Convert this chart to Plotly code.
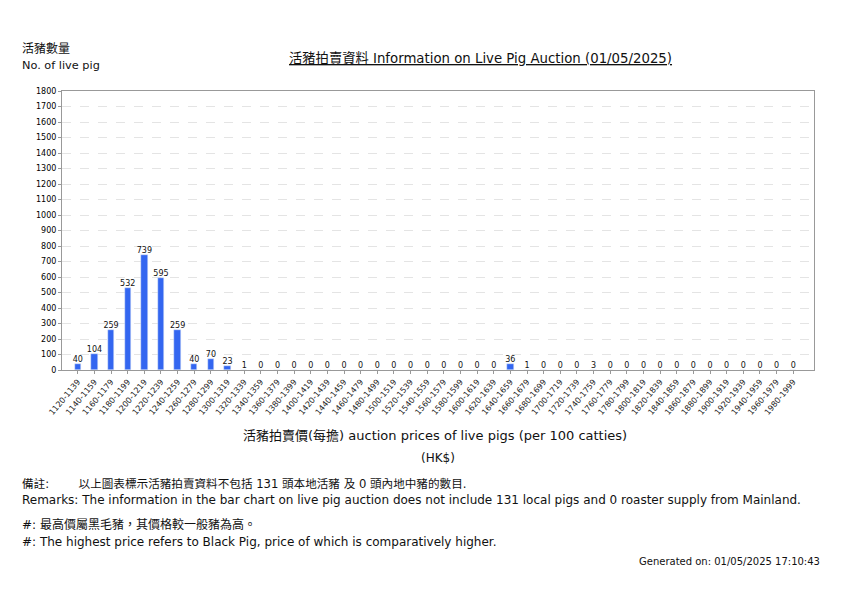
import plotly.graph_objects as go

# live pig auction, 01/05/2025
bin_starts = list(range(1120, 2000, 20))
price_bins = [f"{s}-{s + 19}" for s in bin_starts]
pig_counts = [40, 104, 259, 532, 739, 595, 259, 40, 70, 23, 1,
              0, 0, 0, 0, 0, 0, 0, 0, 0, 0, 0, 0, 0, 0, 0,
              36, 1, 0, 0, 0, 3,
              0, 0, 0, 0, 0, 0, 0, 0, 0, 0, 0, 0]
y_ticks = list(range(0, 1900, 100))

W, H = 842, 595
OFF = 8  # page body margin shifts the figure
L, R, T, B = 62 - OFF, 814 - OFF, 91 - OFF, 370 - OFF  # plot box in pixels
FONT = "DejaVu Sans, Noto Sans CJK TC"


def px(x, y):
    # screen pixel -> paper coords
    x, y = x - OFF, y - OFF
    return (x - L) / (R - L), (B - y) / (B - T)


xs = list(range(len(price_bins)))
fig = go.Figure()
fig.add_trace(go.Bar(x=xs, y=pig_counts, marker_color="#3366f0", width=0.38))
# value labels above bars
fig.add_trace(go.Scatter(
    x=xs, y=pig_counts, mode="text", text=[str(v) for v in pig_counts],
    textposition="top center", textfont=dict(size=8, color="#111"),
    cliponaxis=False, hoverinfo="skip",
))

fig.update_layout(
    width=W, height=H,
    margin=dict(l=L, r=W - R, t=T, b=H - B),
    paper_bgcolor="white", plot_bgcolor="white",
    font=dict(family=FONT, color="#111"),
    showlegend=False, bargap=0,
)
fig.update_xaxes(
    range=[-0.95, len(price_bins) + 0.25],
    tickvals=xs, ticktext=price_bins,
    tickangle=-50, tickfont=dict(size=8, color="#222"), ticks="outside", ticklen=3,
    tickcolor="#999", showgrid=False, showline=True, linecolor="#999",
    mirror=True, zeroline=False,
)
fig.update_yaxes(
    range=[0, 1800], tickvals=y_ticks, tickfont=dict(size=8, color="#000"),
    ticks="outside", ticklen=3, tickcolor="#999",
    showgrid=True, gridcolor="#e4e4e4", griddash="dash",
    showline=True, linecolor="#999", mirror=True, zeroline=False,
)

notes = [
    (20, 49, "活豬數量", 12, "left"),
    (20, 66, "No. of live pig", 11.3, "left"),
    (480, 58, "<u>活豬拍賣資料 Information on Live Pig Auction (01/05/2025)</u>", 13.3, "center"),
    (435, 435, "活豬拍賣價(每擔) auction prices of live pigs (per 100 catties)", 13, "center"),
    (438, 458, "(HK$)", 12, "center"),
    (20, 484, "備註:&nbsp;&nbsp;&nbsp;&nbsp;&nbsp;&nbsp;&nbsp;&nbsp;以上圖表標示活豬拍賣資料不包括 131 頭本地活豬 及 0 頭內地中豬的數目.", 11.6, "left"),
    (20, 500, "Remarks: The information in the bar chart on live pig auction does not include 131 local pigs and 0 roaster supply from Mainland.", 12, "left"),
    (20, 524, "#: 最高價屬黑毛豬，其價格較一般豬為高。", 12, "left"),
    (20, 542, "#: The highest price refers to Black Pig, price of which is comparatively higher.", 12, "left"),
    (822, 561, "Generated on: 01/05/2025 17:10:43", 10, "right"),
]
for x, y, txt, size, anchor in notes:
    ax, ay = px(x, y)
    fig.add_annotation(
        x=ax, y=ay, xref="paper", yref="paper", text=txt, showarrow=False,
        xanchor=anchor, yanchor="middle", font=dict(size=size, color="#111"),
    )

fig.write_html("out.html")
